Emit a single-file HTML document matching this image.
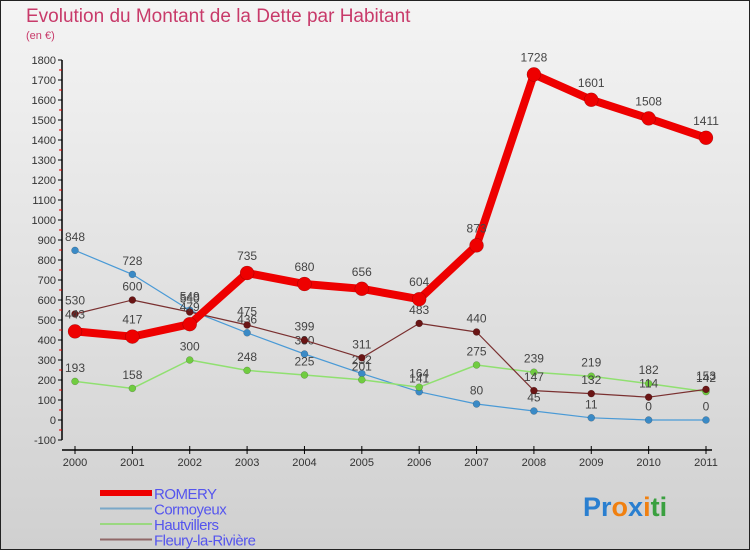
<!DOCTYPE html>
<html><head><meta charset="utf-8"><style>
body{margin:0;width:750px;height:550px;overflow:hidden;font-family:"Liberation Sans",sans-serif}
</style></head><body>
<svg width="750" height="550" xmlns="http://www.w3.org/2000/svg">
<defs><linearGradient id="bg" x1="0" y1="0" x2="0" y2="1"><stop offset="0" stop-color="#f4f4f4"/><stop offset="1" stop-color="#d0d0d0"/></linearGradient></defs>
<rect x="0.5" y="0.5" width="749" height="549" fill="url(#bg)" stroke="#222"/>
<text x="26" y="22" font-size="19" fill="#c83a6a">Evolution du Montant de la Dette par Habitant</text>
<text x="26" y="39" font-size="11" fill="#c83a6a">(en €)</text>
<g id="axes"></g><g id="series"></g><g id="legend"></g>
<text x="583" y="516" font-size="27" font-weight="bold"><tspan fill="#2a7fd0">Pr</tspan><tspan fill="#f08010">o</tspan><tspan fill="#2a7fd0">x</tspan><tspan fill="#f08010">i</tspan><tspan fill="#3aa040">ti</tspan></text>
</svg>
<script>
const years=["2000","2001","2002","2003","2004","2005","2006","2007","2008","2009","2010","2011"];
const yTicks=[-100,0,100,200,300,400,500,600,700,800,900,1000,1100,1200,1300,1400,1500,1600,1700,1800];
const romery=[443,417,479,735,680,656,604,873,1728,1601,1508,1411];
const cormoyeux=[848,728,549,436,330,232,141,80,45,11,0,0];
const hautvillers=[193,158,300,248,225,201,164,275,239,219,182,142];
const fleury=[530,600,540,475,399,311,483,440,147,132,114,153];
const NS="http://www.w3.org/2000/svg";
const X=i=>75+i*(631/11), Y=v=>420-v*0.2;
function mk(t,a,p){const e=document.createElementNS(NS,t);for(const k in a)e.setAttribute(k,a[k]);p.appendChild(e);return e;}
const ax=document.getElementById('axes');
let yl=mk('line',{x1:62,y1:Y(1800),x2:62,y2:Y(-100),stroke:'#000','stroke-width':1.5},ax);


yTicks.forEach(v=>{
  mk('line',{x1:58,y1:Y(v),x2:62,y2:Y(v),stroke:'#000'},ax);
  if(v<1800)mk('line',{x1:59,y1:Y(v+50),x2:62,y2:Y(v+50),stroke:'#e00000'},ax);
  const t=mk('text',{x:56,y:Y(v)+4,'text-anchor':'end','font-size':11,fill:'#333'},ax);t.textContent=v;
  
  
});
let xl=mk('line',{x1:62,y1:450,x2:712,y2:450,stroke:'#000','stroke-width':1.5},ax);


years.forEach((y,i)=>{
  mk('line',{x1:X(i),y1:446,x2:X(i),y2:454,stroke:'#000'},ax);
  const t=mk('text',{x:X(i),y:466,'text-anchor':'middle','font-size':11,fill:'#333'},ax);t.textContent=y;
  
  
});
const sg=document.getElementById('series');
const series=[
 {name:'cormoyeux',d:cormoyeux,c:'#4a9ad6',w:1.2,r:3.5,f:'#3a8ac6'},
 {name:'hautvillers',d:hautvillers,c:'#90e070',w:1.5,r:3.5,f:'#70cc40'},
 {name:'fleury',d:fleury,c:'#7a3030',w:1.2,r:3.5,f:'#6a1515'},
 {name:'romery',d:romery,c:'#ee0000',w:8,r:7,f:'#ee0000'}];
series.forEach(s=>{
  const g=mk('g',{},sg);
  
  
  const pl=mk('polyline',{points:s.d.map((v,i)=>X(i)+','+Y(v)).join(' '),fill:'none',stroke:s.c,'stroke-width':s.w,'stroke-linejoin':'round'},g);
  
  
  s.d.forEach((v,i)=>{
    const c=mk('circle',{cx:X(i),cy:Y(v),r:s.r,fill:s.f,stroke:'rgba(0,0,0,0.3)','stroke-width':0.5},g);
    
    
    const t=mk('text',{x:X(i),y:Y(v)-(s.r+6),'text-anchor':'middle','font-size':12,fill:'#444'},g);t.textContent=v;
    
    
  });
});
const lg=document.getElementById('legend');
const leg=[['ROMERY','#ee0000',6],['Cormoyeux','#7aa8c8',2],['Hautvillers','#9ad880',2],['Fleury-la-Rivière','#906868',2]];
leg.forEach((l,i)=>{
  const y=493+i*15.5;
  const ln=mk('line',{x1:100,y1:y,x2:152,y2:y,stroke:l[1],'stroke-width':l[2]},lg);
  
  
  const t=mk('text',{x:154,y:y+6,'font-size':15,fill:'#5555ee','letter-spacing':'-0.5'},lg);t.textContent=l[0];
  
  
});
</script>
</body></html>
